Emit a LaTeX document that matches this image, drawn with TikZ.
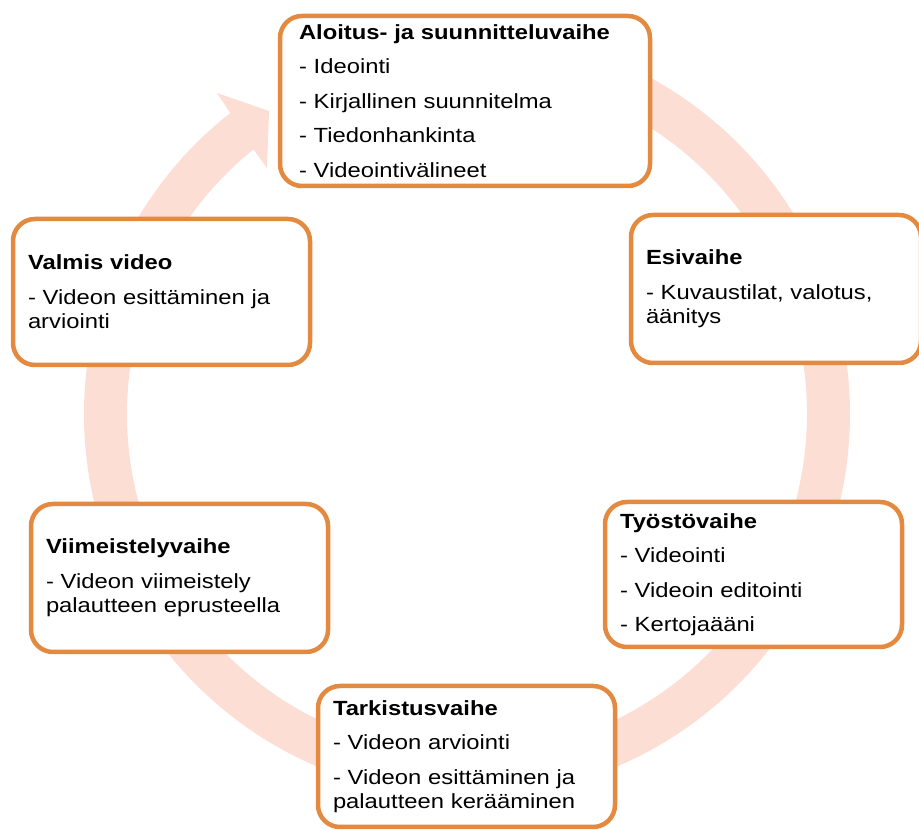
\documentclass[tikz,border=0pt]{standalone}
\usepackage{fontspec}
\setmainfont{Liberation Sans}[FakeStretch=1.16]
\usetikzlibrary{calc}
\definecolor{phaseorange}{RGB}{228,137,64}
\definecolor{ringpink}{RGB}{252,222,212}

\begin{document}
\begin{tikzpicture}[x=1pt, y=1pt,
    phase/.style={draw=phaseorange, line width=4.5pt, fill=white,
      rounded corners=22pt, align=left, inner xsep=15pt, inner ysep=2pt,
      minimum width=297pt, text width=267pt,
      font=\fontsize{20.5}{24.5}\selectfont}]
  \useasboundingbox (0,0) rectangle (919,830);
  \clip (0,0) rectangle (919,830);

  % ring with the arrow head
  \coordinate (c) at (467,416);
  \fill[ringpink] (c) ++(90:383pt) arc[start angle=90, end angle=-231.8, radius=383pt]
    -- (217,737) -- (269,719) -- (267,662)
    -- ($(c)+(128.9:340pt)$) arc[start angle=128.9, end angle=450, radius=340pt] -- cycle;

  % phases
  \node[phase, minimum width=370pt, text width=332pt, inner xsep=19pt, minimum height=170pt] (aloitus) at (465,729)
    {\textbf{Aloitus- ja suunnitteluvaihe}\\[10pt] - Ideointi\\[10pt] - Kirjallinen suunnitelma\\[10pt] - Tiedonhankinta\\[10pt] - Videointivälineet};
  \node[phase, minimum width=290pt, text width=260pt, minimum height=148pt] (esivaihe) at (776,541)
    {\textbf{Esivaihe}\\[10pt] - Kuvaustilat, valotus,\\ äänitys};
  \node[phase, minimum height=145pt] (tyosto) at (753.5,255.5)
    {\textbf{Työstövaihe}\\[10pt] - Videointi\\[10pt] - Videoin editointi\\[10pt] - Kertojaääni};
  \node[phase, minimum height=141pt] (tarkistus) at (466.5,73.5)
    {\textbf{Tarkistusvaihe}\\[10pt] - Videon arviointi\\[10pt] - Videon esittäminen ja\\ palautteen kerääminen};
  \node[phase, minimum height=148pt] (viimeistely) at (179.5,252)
    {\textbf{Viimeistelyvaihe}\\[10pt] - Videon viimeistely\\ palautteen eprusteella};
  \node[phase, minimum height=146pt] (valmis) at (161.5,538)
    {\textbf{Valmis video}\\[10pt] - Videon esittäminen ja\\ arviointi};
\end{tikzpicture}
\end{document}
